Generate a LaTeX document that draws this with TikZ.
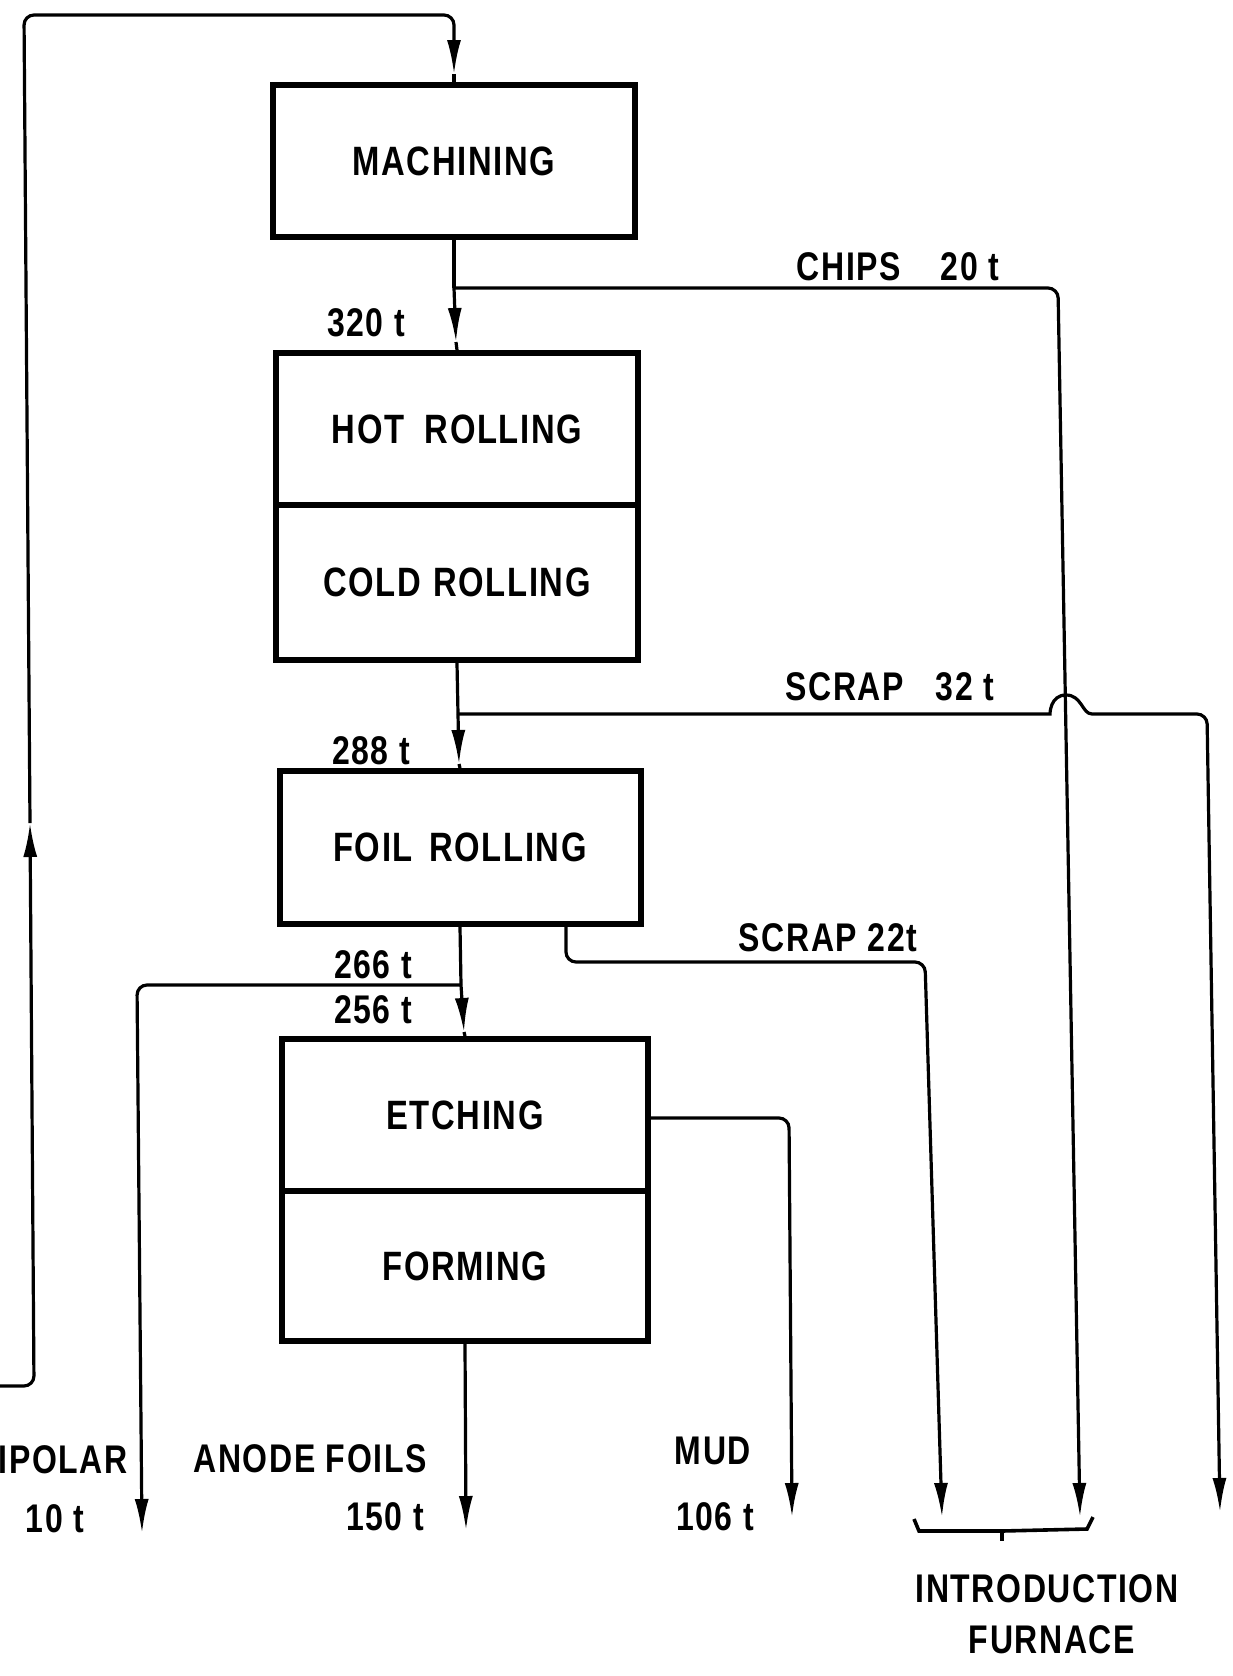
\documentclass[tikz,border=0pt]{standalone}
\usepackage{fontspec}
\setmainfont[FakeStretch=0.8,LetterSpace=4]{Liberation Sans}
\usetikzlibrary{arrows.meta}
\begin{document}
\begin{tikzpicture}[x=0.5pt,y=-0.5pt,
  box/.style={draw, line width=3pt, minimum width=181pt, inner sep=0pt,
              font=\fontsize{20.5}{21}\selectfont\bfseries},
  flow/.style={line width=1.6pt, rounded corners=5pt},
  tip/.style={-{Latex[length=17pt,width=7pt]}},
  lbl/.style={font=\fontsize{20}{20}\selectfont\bfseries, inner sep=0pt},
]
\useasboundingbox (0,0) rectangle (1232,1676);

% boxes
\node[box, minimum height=76pt] (mach) at (454,161) {MACHINING};
\node[box, minimum height=76pt] (hot) at (457,429) {HOT\hspace{0.5em}ROLLING};
\node[box, minimum height=77.5pt] (cold) at (457,582.5) {COLD\hspace{0.3em}ROLLING};
\node[box, minimum height=76.5pt, minimum width=180.5pt] (foil) at (460,847.5) {FOIL\hspace{0.4em}ROLLING};
\node[box, minimum height=76pt, minimum width=183pt] (etch) at (465,1115) {ETCHING};
\node[box, minimum height=75pt, minimum width=183pt] (form) at (465,1266) {FORMING};

% coordinates
\coordinate (j1) at (454,288);
\coordinate (t320) at (456,342);
\coordinate (c1) at (1058,288);
\coordinate (chipsEnd) at (1080,1517);
\coordinate (j2) at (458,714);
\coordinate (t288) at (459,764);
\coordinate (h1) at (1040,714);
\coordinate (h2) at (1066,695);
\coordinate (h3) at (1092,714);
\coordinate (c2) at (1207,714);
\coordinate (s32End) at (1220,1512);
\coordinate (j3) at (461,985);
\coordinate (t256) at (464,1032);
\coordinate (c3) at (137,985);
\coordinate (bipEnd) at (142,1533);
\coordinate (s22a) at (566,962);
\coordinate (s22b) at (925,962);
\coordinate (s22End) at (942,1517);
\coordinate (mudc) at (789,1118);
\coordinate (mudEnd) at (792,1517);
\coordinate (anodeEnd) at (466,1530);
\coordinate (loopStart) at (0,1386);
\coordinate (l1) at (34,1386);
\coordinate (tUp) at (30,823);
\coordinate (l2) at (24,15);
\coordinate (l3) at (454,15);
\coordinate (tMach) at (454,74);

% main line
\draw[flow] (mach.south) -- (j1);
\draw[flow,tip] (j1) -- (t320);
\draw[flow] (t320) -- (hot.north);
\draw[flow] (cold.south) -- (j2);
\draw[flow,tip] (j2) -- (t288);
\draw[flow] (t288) -- (foil.north);
\draw[flow] (foil.south) -- (j3);
\draw[flow,tip] (j3) -- (t256);
\draw[flow] (t256) -- (etch.north);

% chips
\draw[flow,tip] (j1) -- (c1) -- (chipsEnd);
% scrap 32 with hop over the chips line
\draw[flow,tip] (j2) -- (h1) [sharp corners]
   .. controls (1050,714) and (1050,695) .. (h2)
   .. controls (1082,695) and (1082,714) .. (h3) [rounded corners=5pt] -- (c2) -- (s32End);
% scrap 22
\draw[flow,tip] ([xshift=53pt]foil.south) -- (s22a) -- (s22b) -- (s22End);
% bipolar
\draw[flow,tip] (j3) -- (c3) -- (bipEnd);
% mud
\draw[flow,tip] (etch.east |- mudc) -- (mudc) -- (mudEnd);
% anode foils
\draw[flow,tip] (form.south) -- (anodeEnd);
% return loop
\draw[flow,tip] (loopStart) -- (l1) -- (tUp);
\draw[flow,tip] (tUp) -- (l2) -- (l3) -- (tMach);
\draw[flow] (tMach) -- (mach.north);

% brace under furnace inputs
\coordinate (b1) at (914,1519);
\coordinate (b2) at (919,1531);
\coordinate (bm) at (1002,1531);
\coordinate (b3) at (1087,1529);
\coordinate (b4) at (1093,1517);
\coordinate (bt) at (1002,1541);
\draw[line width=1.8pt] (b1) -- (b2) -- (bm) -- (b3) -- (b4);
\draw[line width=1.6pt] (bm) -- (bt);

% labels
\node[lbl] (lchips) at (898,267) {CHIPS\hspace{1em}20 t};
\node[lbl] (ls32) at (890,687) {SCRAP\hspace{0.8em}32 t};
\node[lbl] (ls22) at (828,938) {SCRAP 22t};
\node[lbl] (l320) at (366,323) {320 t};
\node[lbl] (l288) at (371,751) {288 t};
\node[lbl] (l266) at (373,965) {266 t};
\node[lbl] (l256) at (373,1010) {256 t};
\node[lbl, anchor=east] (lbip) at (128,1460) {BIPOLAR};
\node[lbl] (l10) at (55,1519) {10 t};
\node[lbl] (lanode) at (310,1459) {ANODE FOILS};
\node[lbl] (l150) at (385,1517) {150 t};
\node[lbl] (lmud) at (713,1451) {MUD};
\node[lbl] (l106) at (715,1517) {106 t};
\node[lbl] (lintro) at (1047,1589) {INTRODUCTION};
\node[lbl] (lfurn) at (1052,1640) {FURNACE};
\end{tikzpicture}
\end{document}
